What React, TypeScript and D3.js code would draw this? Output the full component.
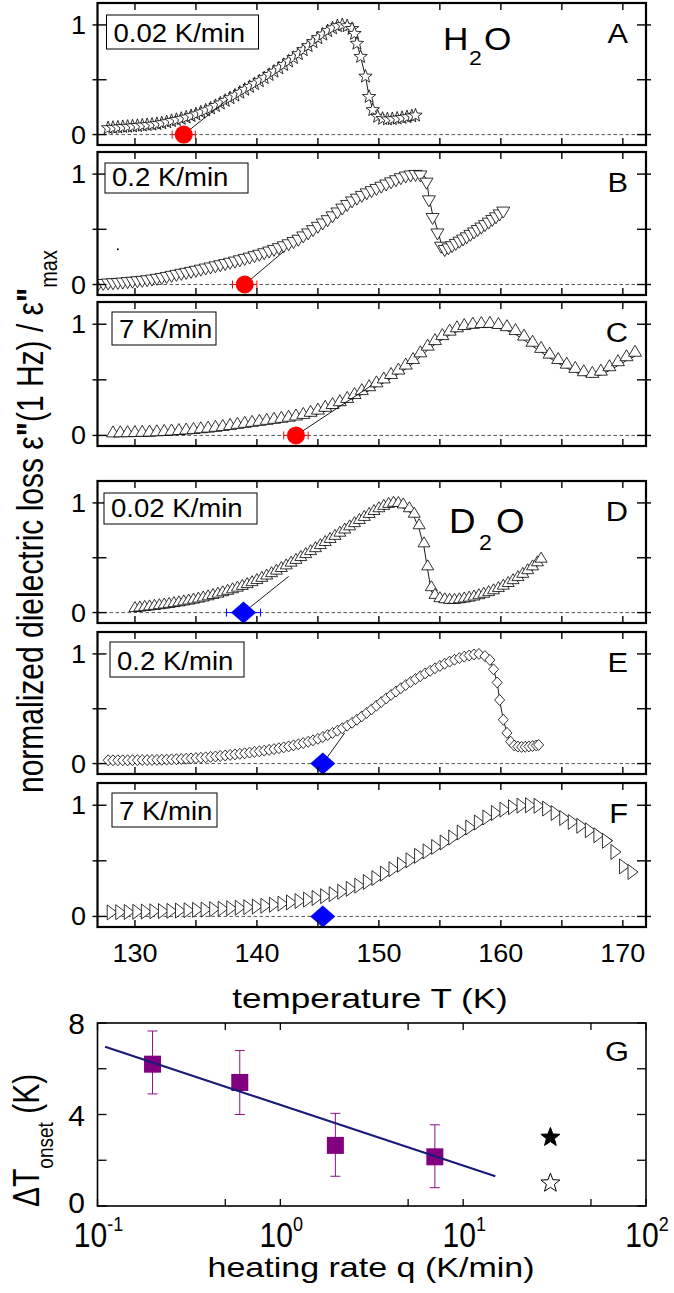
import React from 'react';
import * as d3 from 'd3';

const W = 674;
const H = 1293;
const FONT = "'Liberation Sans', Arial, Helvetica, sans-serif";

// ---------- Panel A: H2O, 0.02 K/min (stars) ----------
const tA = [127.8,128.2,128.6,129.0,129.4,129.8,130.2,130.6,131.0,131.4,131.8,132.2,132.6,133.0,133.4,133.8,134.2,134.6,135.0,135.4,135.8,136.2,136.6,137.0,137.4,137.8,138.2,138.6,139.0,139.4,139.8,140.2,140.6,141.0,141.4,141.8,142.2,142.6,143.0,143.4,143.8,144.2,144.6,145.0,145.4,145.8,146.2,146.6,147.0,147.4,147.8,148.0,148.2,148.5,148.9,149.2,149.5,149.9,150.3,150.7,151.1,151.5,151.9,152.3,152.7,153.0];
const vA = [0.060,0.063,0.066,0.070,0.073,0.076,0.080,0.084,0.088,0.092,0.097,0.105,0.114,0.125,0.135,0.145,0.157,0.170,0.185,0.203,0.221,0.240,0.262,0.285,0.309,0.333,0.357,0.383,0.410,0.436,0.462,0.488,0.516,0.545,0.575,0.605,0.636,0.668,0.700,0.735,0.771,0.808,0.844,0.880,0.913,0.945,0.970,0.990,1.000,0.990,0.965,0.92,0.83,0.71,0.53,0.345,0.225,0.164,0.145,0.140,0.142,0.147,0.153,0.160,0.168,0.175];

// ---------- Panel B: H2O, 0.2 K/min (down triangles) ----------
const tB = [127.0,127.4,127.8,128.2,128.6,129.0,129.4,129.8,130.2,130.6,131.0,131.4,131.8,132.2,132.6,133.0,133.4,133.8,134.2,134.6,135.0,135.4,135.8,136.2,136.6,137.0,137.4,137.8,138.2,138.6,139.0,139.4,139.8,140.2,140.6,141.0,141.4,141.8,142.2,142.6,143.0,143.4,143.8,144.2,144.6,145.0,145.4,145.8,146.2,146.6,147.0,147.4,147.8,148.2,148.6,149.0,149.4,149.8,150.2,150.6,151.0,151.4,151.8,152.2,152.6,153.0,153.4,153.9,154.1,154.4,154.8,155.1,155.4,155.7,156.0,156.3,156.6,156.9,157.2,157.5,157.8,158.1,158.4,158.7,159.0,159.3,159.6,159.9,160.2];
const vB = [0.010,0.013,0.016,0.019,0.022,0.025,0.029,0.033,0.037,0.041,0.046,0.052,0.059,0.067,0.076,0.086,0.095,0.104,0.113,0.122,0.132,0.142,0.152,0.162,0.172,0.182,0.193,0.204,0.215,0.227,0.239,0.251,0.264,0.277,0.291,0.306,0.321,0.337,0.354,0.372,0.392,0.413,0.443,0.470,0.500,0.530,0.560,0.590,0.625,0.660,0.695,0.728,0.760,0.785,0.810,0.833,0.853,0.873,0.893,0.913,0.933,0.952,0.970,0.985,0.995,1.000,0.995,0.93,0.77,0.61,0.47,0.35,0.320,0.335,0.355,0.375,0.395,0.415,0.435,0.457,0.479,0.501,0.523,0.545,0.568,0.592,0.616,0.642,0.668];

// ---------- Panel C: H2O, 7 K/min (up triangles) ----------
const tC = [128.2,128.8,129.4,130.0,130.6,131.2,131.8,132.4,133.0,133.6,134.2,134.8,135.4,136.0,136.6,137.2,137.8,138.4,139.0,139.6,140.2,140.8,141.4,142.0,142.6,143.2,143.8,144.4,145.0,145.6,146.2,146.8,147.4,148.0,148.6,149.2,149.8,150.4,151.0,151.6,152.2,152.8,153.4,154.0,154.6,155.2,155.8,156.4,157.0,157.7,158.4,159.1,159.8,160.5,161.2,161.9,162.6,163.3,164.0,164.7,165.4,166.1,166.8,167.5,168.2,168.9,169.6,170.3,171.0];
const vC = [0.020,0.021,0.022,0.023,0.025,0.027,0.030,0.033,0.037,0.041,0.046,0.051,0.057,0.063,0.070,0.078,0.087,0.097,0.106,0.115,0.124,0.133,0.142,0.151,0.161,0.172,0.186,0.205,0.225,0.250,0.275,0.300,0.330,0.365,0.400,0.435,0.470,0.505,0.545,0.585,0.630,0.680,0.740,0.800,0.850,0.895,0.935,0.965,0.985,0.997,1.003,1.005,0.995,0.975,0.940,0.890,0.835,0.780,0.728,0.680,0.638,0.600,0.570,0.555,0.575,0.615,0.660,0.705,0.745];

// ---------- Panel D: D2O, 0.02 K/min (up triangles) ----------
const tD = [130.0,130.4,130.8,131.2,131.6,132.0,132.4,132.8,133.2,133.6,134.0,134.4,134.8,135.2,135.6,136.0,136.4,136.8,137.2,137.6,138.0,138.4,138.8,139.2,139.6,140.0,140.4,140.8,141.2,141.6,142.0,142.4,142.8,143.2,143.6,144.0,144.4,144.8,145.2,145.6,146.0,146.4,146.8,147.2,147.6,148.0,148.4,148.8,149.2,149.6,150.0,150.4,150.8,151.2,151.6,152.0,152.5,152.9,153.3,153.7,154.0,154.3,154.6,155.0,155.4,155.8,156.2,156.6,157.0,157.4,157.8,158.2,158.6,159.0,159.4,159.8,160.2,160.6,161.0,161.4,161.8,162.2,162.6,163.0,163.3];
const vD = [0.040,0.045,0.050,0.055,0.060,0.066,0.072,0.078,0.085,0.092,0.100,0.108,0.117,0.126,0.136,0.147,0.159,0.171,0.184,0.197,0.211,0.226,0.242,0.258,0.276,0.295,0.315,0.336,0.358,0.381,0.405,0.429,0.454,0.479,0.505,0.532,0.559,0.586,0.614,0.642,0.670,0.698,0.727,0.756,0.785,0.814,0.843,0.871,0.898,0.925,0.950,0.972,0.990,1.000,0.998,0.985,0.95,0.90,0.795,0.63,0.42,0.23,0.16,0.130,0.120,0.115,0.115,0.120,0.127,0.135,0.145,0.157,0.170,0.185,0.202,0.222,0.244,0.268,0.294,0.322,0.352,0.385,0.420,0.457,0.490];

// ---------- Panel E: D2O, 0.2 K/min (diamonds) ----------
const tE = [127.8,128.2,128.6,129.0,129.4,129.8,130.2,130.6,131.0,131.4,131.8,132.2,132.6,133.0,133.4,133.8,134.2,134.6,135.0,135.4,135.8,136.2,136.6,137.0,137.4,137.8,138.2,138.6,139.0,139.4,139.8,140.2,140.6,141.0,141.4,141.8,142.2,142.6,143.0,143.4,143.8,144.2,144.6,145.0,145.4,145.8,146.2,146.6,147.0,147.4,147.8,148.2,148.6,149.0,149.4,149.8,150.2,150.6,151.0,151.4,151.8,152.2,152.6,153.0,153.4,153.8,154.2,154.6,155.0,155.4,155.8,156.2,156.6,157.0,157.4,157.8,158.2,158.7,159.1,159.4,159.7,159.9,160.2,160.5,160.8,161.1,161.4,161.7,162.0,162.3,162.6,162.9,163.1];
const vE = [0.030,0.030,0.030,0.030,0.030,0.031,0.031,0.032,0.032,0.033,0.034,0.035,0.036,0.038,0.040,0.042,0.044,0.047,0.050,0.053,0.057,0.061,0.065,0.069,0.074,0.079,0.084,0.089,0.094,0.100,0.106,0.112,0.118,0.125,0.132,0.140,0.148,0.157,0.166,0.176,0.187,0.199,0.212,0.226,0.242,0.260,0.279,0.300,0.322,0.346,0.372,0.400,0.430,0.462,0.495,0.528,0.561,0.594,0.626,0.657,0.687,0.716,0.744,0.771,0.797,0.822,0.846,0.869,0.891,0.911,0.930,0.947,0.962,0.975,0.986,0.995,1.000,0.98,0.945,0.86,0.74,0.58,0.40,0.28,0.20,0.165,0.155,0.152,0.153,0.156,0.160,0.165,0.170];

// ---------- Panel F: D2O, 7 K/min (right triangles) ----------
const tF = [128.0,128.7,129.4,130.1,130.8,131.5,132.2,132.9,133.6,134.3,135.0,135.7,136.4,137.1,137.8,138.5,139.2,139.9,140.6,141.3,142.0,142.7,143.4,144.1,144.8,145.5,146.2,146.9,147.6,148.3,149.0,149.7,150.4,151.1,151.8,152.5,153.2,153.9,154.6,155.3,156.0,156.7,157.4,158.1,158.8,159.5,160.2,160.9,161.6,162.3,163.0,163.7,164.4,165.1,165.8,166.5,167.2,167.9,168.6,169.3,170.0,170.7];
const vF = [0.036,0.038,0.040,0.042,0.044,0.046,0.048,0.050,0.053,0.056,0.059,0.062,0.066,0.070,0.074,0.078,0.083,0.089,0.096,0.105,0.115,0.126,0.138,0.151,0.166,0.182,0.200,0.222,0.248,0.277,0.310,0.345,0.385,0.425,0.465,0.505,0.545,0.585,0.625,0.665,0.710,0.755,0.800,0.845,0.890,0.930,0.960,0.982,0.996,1.000,0.995,0.970,0.930,0.885,0.850,0.815,0.775,0.730,0.680,0.580,0.450,0.400];

// onset temperatures (K) and their uncertainties
const onsetT = [134.0, 139.0, 143.2, 138.9, 145.4, 145.4];
const onsetErr = [0.95, 1.0, 1.0, 1.4, 0.35, 0.4];
// upper end point of the onset construction line [T, value]
const tangentT = [137.6, 142.2, 149.4, 142.6, 147.2, NaN];
const tangentV = [0.32, 0.30, 0.45, 0.33, 0.28, NaN];

const rateLabels = ['0.02 K/min', '0.2 K/min', '7 K/min', '0.02 K/min', '0.2 K/min', '7 K/min'];
const panelLetters = ['A', 'B', 'C', 'D', 'E', 'F'];
const tempTicks = [130, 140, 150, 160, 170];
const tempMinorTicks = [130, 135, 140, 145, 150, 155, 160, 165, 170];
const valueTicks = [0, 0.5, 1];
const valueTickLabels = [0, 1];

// ---------- Panel G ----------
const rateG = [0.2, 0.6, 2, 7];
const dTG = [6.2, 5.4, 2.65, 2.15];
const dTLo = [4.9, 4.0, 1.3, 0.8];
const dTHi = [7.65, 6.8, 4.05, 3.55];
const fitRate = [0.11, 15];
const fitDT = [6.96, 1.3];
const starRate = [30, 30];
const starDT = [3.0, 1.0];
const gYTicks = [0, 2, 4, 6, 8];
const gYLabels = [0, 4, 8];
const gXMajor = [0.1, 1, 10, 100];
const gXMinor = [0.5, 5, 50];
const gXExp = ['-1', '0', '1', '2'];

const strayT = [128.6];
const strayV = [0.32];

// ---------- layout ----------
const PL = 97.5, PR = 646;
const layout = [
  { top: 3, bottom: 145, box: [106.5, 15, 152, 34], marker: 'star', mw: 13, mh: 13, ldx: 0, ldy: 0, color: '#ff0000', onset: 'circle' },
  { top: 152, bottom: 295, box: [105, 163, 143, 30], marker: 'down', mw: 13, mh: 11, ldx: 0, ldy: -3, color: '#ff0000', onset: 'circle' },
  { top: 302, bottom: 446, box: [112, 312, 104, 33], marker: 'up', mw: 13, mh: 11, ldx: 0, ldy: 3.5, color: '#ff0000', onset: 'circle' },
  { top: 481, bottom: 623, box: [104, 493, 153, 31], marker: 'up', mw: 12, mh: 10, ldx: 0, ldy: 3.5, color: '#0000ff', onset: 'diamond' },
  { top: 632, bottom: 774, box: [110, 642, 134, 35], marker: 'diamond', mw: 10, mh: 11, ldx: 0, ldy: 0, color: '#0000ff', onset: 'diamond' },
  { top: 783, bottom: 927, box: [112, 793, 105, 34], marker: 'right', mw: 10, mh: 15, ldx: 7, ldy: 0, color: '#0000ff', onset: 'diamond' },
];
const series = [[tA, vA], [tB, vB], [tC, vC], [tD, vD], [tE, vE], [tF, vF]];
const lineMaxT = [999, 999, 999, 999, 999, 168.6];

function starPath(R: number, ratio = 0.42) {
  let p = '';
  for (let i = 0; i < 10; i++) {
    const r = i % 2 === 0 ? R : R * ratio;
    const a = -Math.PI / 2 + (i * Math.PI) / 5;
    p += (i ? 'L' : 'M') + (r * Math.cos(a)).toFixed(2) + ',' + (r * Math.sin(a)).toFixed(2);
  }
  return p + 'Z';
}
function markerPath(type: string, w: number, h: number) {
  switch (type) {
    case 'star': return starPath(w / 2 + 0.5);
    case 'up': return `M0,${-2 * h / 3}L${w / 2},${h / 3}L${-w / 2},${h / 3}Z`;
    case 'down': return `M0,${2 * h / 3}L${w / 2},${-h / 3}L${-w / 2},${-h / 3}Z`;
    case 'right': return `M${2 * w / 3},0L${-w / 3},${-h / 2}L${-w / 3},${h / 2}Z`;
    default: return `M0,${-h / 2}L${w / 2},0L0,${h / 2}L${-w / 2},0Z`;
  }
}

function Txt(props: any) {
  const { x, y, size, anchor = 'start', sx = 1, children, weight } = props;
  return (
    <text transform={`translate(${x},${y}) scale(${sx},1)`} fontSize={size} textAnchor={anchor}
      fontFamily={FONT} fontWeight={weight} fill="#000">{children}</text>
  );
}

const xT = d3.scaleLinear().domain([126.93, 171.9]).range([PL, PR]);

function Panel({ i }: { i: number }) {
  const L = layout[i];
  const y = d3.scaleLinear().domain([-0.095, 1.2]).range([L.bottom, L.top]);
  const [ts, vs] = series[i];
  const pts = ts.map((t, k) => [t, vs[k]] as [number, number]);
  const line = d3.line<[number, number]>().x(d => xT(d[0]) + L.ldx).y(d => y(d[1]) + L.ldy);
  const lpts = pts.filter(d => d[0] <= lineMaxT[i]);
  const mp = markerPath(L.marker, L.mw, L.mh);
  const y0 = y(0);
  const ox = xT(onsetT[i]);
  const ex0 = xT(onsetT[i] - onsetErr[i]);
  const ex1 = xT(onsetT[i] + onsetErr[i]);
  const clipId = `clip${i}`;
  const [bx, by, bw, bh] = L.box;
  return (
    <g>
      <defs>
        <clipPath id={clipId}><rect x={PL} y={L.top} width={PR - PL} height={L.bottom - L.top} /></clipPath>
      </defs>
      <g clipPath={`url(#${clipId})`}>
        <line x1={PL} x2={PR} y1={y0} y2={y0} stroke="#555" strokeWidth={1} strokeDasharray="3.5,2.5" />
        <path d={line(lpts) || ''} fill="none" stroke="#000" strokeWidth={0.9} />
        {pts.map((d, k) => (
          <path key={k} d={mp} transform={`translate(${xT(d[0])},${y(d[1])})`} fill="#fff" stroke="#000" strokeWidth={0.8} />
        ))}
        {!isNaN(tangentT[i]) && (
          <line x1={ox} y1={y0} x2={xT(tangentT[i])} y2={y(tangentV[i])} stroke="#000" strokeWidth={0.9} />
        )}
        {i === 1 && strayT.map((t, k) => <circle key={k} cx={xT(t)} cy={y(strayV[k])} r={1} fill="#000" />)}
        <line x1={ex0} x2={ex1} y1={y0} y2={y0} stroke={L.color} strokeWidth={1} />
        <line x1={ex0} x2={ex0} y1={y0 - 4} y2={y0 + 4} stroke={L.color} strokeWidth={1} />
        <line x1={ex1} x2={ex1} y1={y0 - 4} y2={y0 + 4} stroke={L.color} strokeWidth={1} />
        {L.onset === 'circle'
          ? <ellipse cx={ox} cy={y0} rx={9} ry={9} fill={L.color} />
          : <path d={`M${ox},${y0 - 11}L${ox + 12.5},${y0}L${ox},${y0 + 11}L${ox - 12.5},${y0}Z`} fill={L.color} />}
      </g>
      {tempMinorTicks.map(t => (
        <g key={t}>
          <line x1={xT(t)} x2={xT(t)} y1={L.top} y2={L.top + 7} stroke="#000" strokeWidth={1.4} />
          <line x1={xT(t)} x2={xT(t)} y1={L.bottom} y2={L.bottom - 7} stroke="#000" strokeWidth={1.4} />
        </g>
      ))}
      {valueTicks.map(v => (
        <g key={v}>
          <line x1={PL - 5} x2={PL + 9} y1={y(v)} y2={y(v)} stroke="#000" strokeWidth={1.4} />
          <line x1={PR + 5} x2={PR - 9} y1={y(v)} y2={y(v)} stroke="#000" strokeWidth={1.4} />
        </g>
      ))}
      {valueTickLabels.map(v => (
        <Txt key={v} x={86} y={y(v) + 9} size={25} anchor="end" sx={1.08}>{v}</Txt>
      ))}
      <rect x={bx} y={by} width={bw} height={bh} fill="#fff" stroke="#000" strokeWidth={1} />
      <Txt x={bx + 7} y={by + bh - 7.5} size={26} sx={1.06}>{rateLabels[i]}</Txt>
      <Txt x={628} y={L.top + 40} size={28} anchor="end" sx={1.1}>{panelLetters[i]}</Txt>
      <rect x={PL} y={L.top} width={PR - PL} height={L.bottom - L.top} fill="none" stroke="#000" strokeWidth={2.2} />
    </g>
  );
}

function PanelG() {
  const top = 1023, bottom = 1206;
  const x = d3.scaleLog().domain([0.1, 100]).range([PL, PR]);
  const y = d3.scaleLinear().domain([0, 8]).range([bottom, top]);
  const fit = d3.line<number>().x((d, k) => x(fitRate[k])).y(d => y(d));
  return (
    <g>
      {gXMajor.concat(gXMinor).map(q => (
        <g key={q}>
          <line x1={x(q)} x2={x(q)} y1={top} y2={top + 7} stroke="#000" strokeWidth={1.3} />
          <line x1={x(q)} x2={x(q)} y1={bottom} y2={bottom - 7} stroke="#000" strokeWidth={1.3} />
        </g>
      ))}
      {gYTicks.map(v => (
        <g key={v}>
          <line x1={PL} x2={PL + 9} y1={y(v)} y2={y(v)} stroke="#000" strokeWidth={1.3} />
          <line x1={PR} x2={PR - 9} y1={y(v)} y2={y(v)} stroke="#000" strokeWidth={1.3} />
        </g>
      ))}
      {rateG.map((q, k) => (
        <g key={k} stroke="#8b108b" strokeWidth={1}>
          <line x1={x(q)} x2={x(q)} y1={y(dTLo[k])} y2={y(dTHi[k])} />
          <line x1={x(q) - 5} x2={x(q) + 5} y1={y(dTLo[k])} y2={y(dTLo[k])} />
          <line x1={x(q) - 5} x2={x(q) + 5} y1={y(dTHi[k])} y2={y(dTHi[k])} />
        </g>
      ))}
      {rateG.map((q, k) => (
        <rect key={k} x={x(q) - 8.5} y={y(dTG[k]) - 8.5} width={17} height={17} fill="#800080" />
      ))}
      <path d={fit(fitDT) || ''} fill="none" stroke="#1a1a78" strokeWidth={2.2} />
      {starRate.map((q, k) => (
        <path key={k} d={starPath(10, 0.42)} transform={`translate(${x(q)},${y(starDT[k])})`}
          fill={k === 0 ? '#000' : '#fff'} stroke="#000" strokeWidth={1} />
      ))}
      <rect x={PL} y={top} width={PR - PL} height={bottom - top} fill="none" stroke="#000" strokeWidth={1.6} />
      {gYLabels.map(v => (
        <Txt key={v} x={85} y={y(v) + (v === 0 ? 7 : 11)} size={30} anchor="end" sx={1.0}>{v}</Txt>
      ))}
      {gXMajor.map((q, k) => (
        <text key={q} transform={`translate(${x(q) + 1},1247) scale(0.86,1)`} fontSize={35} textAnchor="middle" fontFamily={FONT}>
          10<tspan dy={-16} fontSize={21}>{gXExp[k]}</tspan>
        </text>
      ))}
      <Txt x={629} y={1061} size={28} anchor="end" sx={1.1}>G</Txt>
      <Txt x={371} y={1277} size={27} anchor="middle" sx={1.26}>heating rate q (K/min)</Txt>
      <text transform="translate(39,1207) rotate(-90) scale(1,1.2)" fontSize={30} fontFamily={FONT}>
        ΔT<tspan dy={12} fontSize={19}>onset</tspan><tspan dy={-12}> (K)</tspan>
      </text>
    </g>
  );
}

export default function App() {
  return (
    <div style={{ position: 'absolute', left: 0, top: 0 }}>
      <svg width={W} height={H} viewBox={`0 0 ${W} ${H}`} style={{ display: 'block', background: '#fff' }}>
        <rect x={0} y={0} width={W} height={H} fill="#fff" />
        {layout.map((_, i) => <Panel key={i} i={i} />)}
        <Txt x={443} y={50} size={32} sx={1.1}>H</Txt>
        <Txt x={469} y={65} size={21} sx={1.1}>2</Txt>
        <Txt x={484} y={50} size={32} sx={1.1}>O</Txt>
        <Txt x={449} y={533} size={35} sx={1.05}>D</Txt>
        <Txt x={479} y={550} size={22} sx={1.05}>2</Txt>
        <Txt x={496} y={533} size={35} sx={1.05}>O</Txt>
        {tempTicks.map(t => (
          <Txt key={t} x={xT(t)} y={962} size={25} anchor="middle" sx={1.08}>{t}</Txt>
        ))}
        <Txt x={370} y={1008} size={27} anchor="middle" sx={1.3}>temperature T (K)</Txt>
        <text transform="translate(43,793) rotate(-90) scale(1,1.2)" fontSize={30} fontFamily={FONT}>
          normalized dielectric loss ε<tspan fontWeight="bold">"</tspan>(1 Hz) / ε<tspan fontWeight="bold">"</tspan><tspan dy={12} fontSize={20}>max</tspan>
        </text>
        <PanelG />
      </svg>
    </div>
  );
}
